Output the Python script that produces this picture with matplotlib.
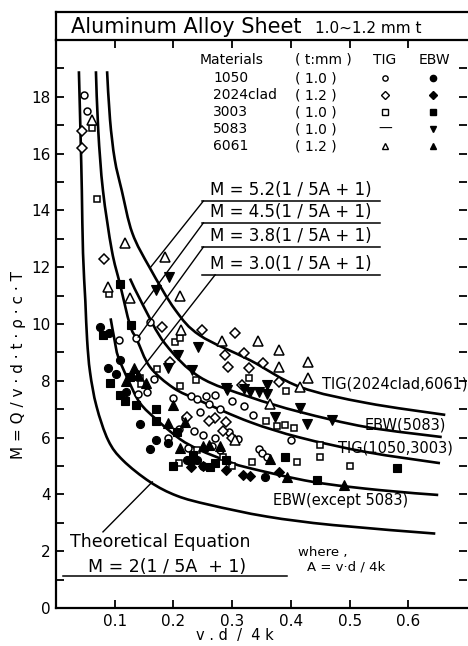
import numpy as np
import matplotlib.pyplot as plt
from matplotlib.path import Path
from matplotlib.patches import PathPatch
from matplotlib.ticker import MultipleLocator

plt.rcParams['font.family'] = ['DejaVu Sans']

# fitted curves (A = v.d/4k, M)
theo_A = [0.039, 0.042, 0.044, 0.046, 0.050, 0.053, 0.058, 0.069, 0.089, 0.114, 0.160, 0.206, 0.262, 0.359, 0.472, 0.646]
theo_M = [18.9, 16.5, 14.7, 12.5, 10.8, 9.44, 8.3, 7.1, 5.9, 5.2, 4.44, 3.95, 3.63, 3.22, 2.92, 2.62]

ebw_A = [0.093, 0.100, 0.106, 0.123, 0.143, 0.172, 0.211, 0.245, 0.291, 0.325, 0.438, 0.552, 0.651]
ebw_M = [10.2, 9.4, 8.84, 8.03, 7.22, 6.62, 5.95, 5.56, 5.18, 4.95, 4.44, 4.15, 3.98]

tig1_A = [0.068, 0.072, 0.080, 0.095, 0.109, 0.126, 0.138, 0.160, 0.200, 0.245, 0.330, 0.416, 0.529, 0.654]
tig1_M = [18.9, 16.8, 14.7, 12.6, 11.4, 9.96, 9.44, 8.49, 7.75, 7.3, 6.55, 6.0, 5.49, 5.1]

ebw5083_A = [0.126, 0.148, 0.186, 0.245, 0.330, 0.416, 0.529, 0.657]
ebw5083_M = [11.6, 10.67, 9.3, 8.13, 7.43, 6.9, 6.37, 6.02]

tig2_A = [0.087, 0.092, 0.100, 0.112, 0.130, 0.160, 0.203, 0.245, 0.330, 0.416, 0.529, 0.663]
tig2_M = [18.9, 17.2, 15.8, 14.7, 13.2, 11.97, 10.5, 9.6, 8.73, 7.78, 7.22, 6.8]

# measured points
tig1050_A = [0.048, 0.053, 0.107, 0.137, 0.160, 0.167, 0.140, 0.155, 0.200, 0.230, 0.240, 0.255, 0.270,
             0.260, 0.280, 0.245, 0.220, 0.235, 0.250, 0.270, 0.295, 0.310, 0.345, 0.350, 0.360, 0.380,
             0.400, 0.300, 0.320, 0.335, 0.210, 0.190, 0.225, 0.280, 0.265]
tig1050_M = [18.06, 17.5, 9.44, 9.5, 10.07, 8.06, 7.55, 7.6, 7.4, 7.45, 7.35, 7.45, 7.5,
             7.2, 7.0, 6.9, 6.7, 6.25, 6.1, 6.0, 6.2, 5.95, 5.6, 5.45, 5.3, 7.99,
             5.9, 7.3, 7.1, 6.8, 6.3, 6.0, 5.65, 5.55, 5.7]

ebw1050_A = [0.075, 0.109, 0.089, 0.102, 0.143, 0.171, 0.191, 0.223, 0.230, 0.356, 0.120, 0.090, 0.160, 0.250, 0.240]
ebw1050_M = [9.9, 8.73, 8.45, 8.24, 6.48, 5.9, 5.8, 5.2, 5.15, 4.6, 7.6, 9.7, 5.6, 5.0, 5.2]

tig2024_A = [0.045, 0.044, 0.082, 0.180, 0.248, 0.305, 0.194, 0.288, 0.293, 0.321, 0.328, 0.352, 0.316,
             0.380, 0.223, 0.270, 0.290, 0.285, 0.260, 0.300]
tig2024_M = [16.8, 16.2, 12.3, 9.9, 9.8, 9.7, 8.66, 8.9, 8.5, 8.98, 8.45, 8.63, 7.85,
             7.96, 6.73, 6.7, 6.55, 6.25, 6.6, 6.0]

ebw2024_A = [0.380, 0.318, 0.330, 0.230, 0.290, 0.250]
ebw2024_M = [4.8, 4.7, 4.65, 4.95, 4.85, 5.0]

tig3003_A = [0.061, 0.069, 0.090, 0.203, 0.212, 0.143, 0.145, 0.172, 0.211, 0.238, 0.329, 0.392, 0.357,
             0.376, 0.390, 0.405, 0.450, 0.450, 0.410, 0.500, 0.334, 0.300, 0.285, 0.240, 0.210]
tig3003_M = [16.9, 14.4, 11.05, 9.37, 9.5, 8.1, 7.9, 8.4, 7.8, 8.03, 8.1, 7.64, 6.6,
             6.4, 6.45, 6.35, 5.74, 5.3, 5.15, 5.0, 5.15, 5.0, 5.3, 5.55, 5.1]

ebw3003_A = [0.109, 0.127, 0.080, 0.092, 0.126, 0.109, 0.117, 0.137, 0.170, 0.171, 0.206, 0.233, 0.262,
             0.270, 0.289, 0.390, 0.444, 0.580, 0.200]
ebw3003_M = [11.4, 9.96, 9.6, 7.92, 8.13, 7.5, 7.3, 7.15, 7.0, 6.6, 6.2, 5.4, 4.95,
             5.1, 5.2, 5.3, 4.5, 4.93, 5.0]

ebw5083_pts_A = [0.193, 0.170, 0.242, 0.208, 0.191, 0.231, 0.291, 0.330, 0.345, 0.360, 0.359, 0.373,
                 0.416, 0.427, 0.470, 0.290, 0.320]
ebw5083_pts_M = [11.65, 11.2, 9.2, 8.9, 8.45, 8.38, 7.68, 7.6, 7.6, 7.55, 7.85, 6.73,
                 7.04, 6.48, 6.62, 7.75, 7.7]

tig6061_A = [0.062, 0.089, 0.118, 0.126, 0.186, 0.211, 0.213, 0.282, 0.344, 0.379, 0.430, 0.430, 0.379,
             0.416, 0.365, 0.305]
tig6061_M = [17.2, 11.3, 12.85, 10.9, 12.36, 11.0, 9.8, 9.4, 9.4, 9.08, 8.66, 8.1, 8.49,
             7.78, 7.2, 5.9]

ebw6061_A = [0.132, 0.154, 0.200, 0.191, 0.220, 0.211, 0.250, 0.260, 0.280, 0.365, 0.393, 0.490, 0.140, 0.120]
ebw6061_M = [8.45, 7.92, 7.15, 6.51, 6.55, 5.63, 5.7, 5.75, 5.7, 5.25, 4.6, 4.33, 8.2, 8.0]

materials = ['1050', '2024clad', '3003', '5083', '6061']
thickness = ['( 1.0 )', '( 1.2 )', '( 1.0 )', '( 1.0 )', '( 1.2 )']
coefs = ['5.2', '4.5', '3.8', '3.0']


def smooth_path(xs, ys):
    # Catmull-Rom through the read points, drawn as cubic Bezier segments
    p = np.column_stack([xs, ys])
    p = np.vstack([p[0], p, p[-1]])
    verts = [p[1]]
    codes = [Path.MOVETO]
    for i in range(1, len(p) - 2):
        c1 = p[i] + (p[i + 1] - p[i - 1]) / 6
        c2 = p[i + 1] - (p[i + 2] - p[i]) / 6
        verts += [c1, c2, p[i + 1]]
        codes += [Path.CURVE4] * 3
    return Path(verts, codes)


fig = plt.figure(figsize=(4.68, 6.46), dpi=100)
ax = fig.add_axes([56/468, 38/646, 411/468, 568/646])

for xs, ys in [(theo_A, theo_M), (ebw_A, ebw_M), (tig1_A, tig1_M),
               (ebw5083_A, ebw5083_M), (tig2_A, tig2_M)]:
    ax.add_patch(PathPatch(smooth_path(xs, ys), fill=False, lw=1.9, ec='black', capstyle='butt'))

op = dict(ls='none', mfc='white', mec='black', mew=1.1)
fl = dict(ls='none', mfc='black', mec='black', mew=0.8)
ax.plot(tig1050_A, tig1050_M, marker='o', ms=5, **op)
ax.plot(ebw1050_A, ebw1050_M, marker='o', ms=5.8, **fl)
ax.plot(tig2024_A, tig2024_M, marker='D', ms=4.6, **op)
ax.plot(ebw2024_A, ebw2024_M, marker='D', ms=5, **fl)
ax.plot(tig3003_A, tig3003_M, marker='s', ms=4.6, **op)
ax.plot(ebw3003_A, ebw3003_M, marker='s', ms=5.2, **fl)
ax.plot(ebw5083_pts_A, ebw5083_pts_M, marker='v', ms=6.5, **fl)
ax.plot(tig6061_A, tig6061_M, marker='^', ms=6.5, **op)
ax.plot(ebw6061_A, ebw6061_M, marker='^', ms=6.5, **fl)

# equation labels with leaders
lab_M = [14.33, 13.56, 12.71, 11.73]
lead_end_A = [0.160, 0.148, 0.140, 0.135]
lead_end_M = [11.97, 10.67, 9.54, 8.13]
for i, c in enumerate(coefs):
    ax.plot([0.249, 0.552], [lab_M[i], lab_M[i]], color='black', lw=1.1)
    ax.text(0.262, lab_M[i] + 0.08, 'M = %s(1 / 5A + 1)' % c, fontsize=12, va='bottom')
    ax.plot([0.251 + (0.02 if i == 3 else 0), lead_end_A[i]], [lab_M[i], lead_end_M[i]], color='black', lw=1.0)

ax.text(0.453, 7.87, 'TIG(2024clad,6061)', fontsize=10.5, va='center')
ax.text(0.526, 6.44, 'EBW(5083)', fontsize=10.5, va='center')
ax.text(0.480, 5.65, 'TIG(1050,3003)', fontsize=10.5, va='center')
ax.text(0.370, 3.80, 'EBW(except 5083)', fontsize=10.5, va='center')

ax.plot([0.080, 0.164], [2.68, 4.44], color='black', lw=1.0)
ax.text(0.024, 2.32, 'Theoretical Equation', fontsize=12.5, va='center')
ax.plot([0.012, 0.393], [1.13, 1.13], color='black', lw=1.1)
ax.text(0.055, 1.44, 'M = 2(1 / 5A  + 1)', fontsize=12.5, va='center')
ax.text(0.412, 1.95, 'where ,', fontsize=9.5, va='center')
ax.text(0.427, 1.45, 'A = v·d / 4k', fontsize=9.5, va='center')

# legend block (axes fraction)
t = ax.transAxes
ax.text(0.350, 0.965, 'Materials', transform=t, fontsize=10, va='center')
ax.text(0.581, 0.965, '( t:mm )', transform=t, fontsize=10, va='center')
ax.text(0.800, 0.965, 'TIG', transform=t, fontsize=10, va='center', ha='center')
ax.text(0.920, 0.965, 'EBW', transform=t, fontsize=10, va='center', ha='center')
rows_y = [0.933, 0.903, 0.873, 0.843, 0.813]
leg_tig = ['o', 'D', 's', None, '^']
leg_ebw = ['o', 'D', 's', 'v', '^']
for i, m in enumerate(materials):
    ax.text(0.383, rows_y[i], m, transform=t, fontsize=10, va='center')
    ax.text(0.581, rows_y[i], thickness[i], transform=t, fontsize=10, va='center')
    if leg_tig[i] is None:
        ax.text(0.800, rows_y[i], '—', transform=t, fontsize=10, va='center', ha='center')
    else:
        ax.plot([0.800], [rows_y[i]], transform=t, marker=leg_tig[i], ms=3.8,
                mfc='white', mec='black', mew=1.0, ls='none')
    ax.plot([0.917], [rows_y[i]], transform=t, marker=leg_ebw[i], ms=4.5,
            mfc='black', mec='black', ls='none')

ax.set_xlim(0, 0.7)
ax.set_ylim(0, 20)
ax.set_xticks([0.1, 0.2, 0.3, 0.4, 0.5, 0.6])
ax.set_xticklabels(['0.1', '0.2', '0.3', '0.4', '0.5', '0.6'])
ax.set_yticks(range(0, 19, 2))
ax.yaxis.set_minor_locator(MultipleLocator(1))
ax.tick_params(which='both', direction='in', length=6, width=1.3, top=True, right=True,
               labelsize=11, pad=4)
for s in ['left', 'bottom', 'top']:
    ax.spines[s].set_linewidth(1.6)
ax.spines['right'].set_visible(False)

ax.set_xlabel('v . d  /  4 k', fontsize=10.5)
ax.xaxis.set_label_coords(0.435, -0.036)
fig.text(19/468, 1 - 365/646, 'M = Q / v · d · t · ρ · c · T', rotation=90,
         fontsize=11, ha='center', va='center')

# title box
tax = fig.add_axes([56/468, 1 - 40/646, 412/468, 28/646])
tax.set_xlim(0, 1)
tax.set_ylim(0, 1)
tax.set_xticks([])
tax.set_yticks([])
tax.spines['right'].set_visible(False)
tax.spines['bottom'].set_visible(False)
tax.spines['top'].set_linewidth(1.6)
tax.spines['left'].set_linewidth(1.6)
tax.patch.set_alpha(0)
tax.text(0.036, 0.45, 'Aluminum Alloy Sheet', fontsize=15, va='center')
tax.text(0.629, 0.42, '1.0~1.2 mm t', fontsize=11, va='center')

fig.savefig('out.png', dpi=100)
